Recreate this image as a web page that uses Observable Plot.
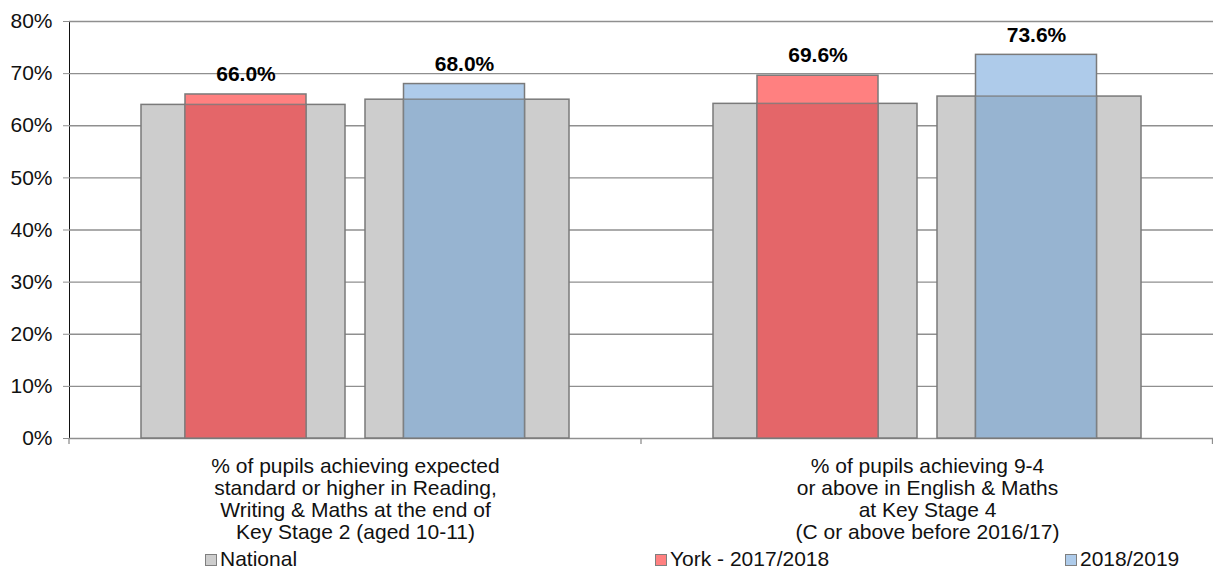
<!DOCTYPE html>
<html>
<head>
<meta charset="utf-8">
<script src="https://cdn.jsdelivr.net/npm/d3@7"></script>
<script src="https://cdn.jsdelivr.net/npm/@observablehq/plot@0.6"></script>
<style>
  html, body { margin: 0; padding: 0; background: #fff; }
  #wrap { width: 1213px; font-family: "Liberation Sans", Arial, sans-serif; }
  #legend { position: relative; height: 21px; font-size: 21px; color: #111; }
  #legend .item { position: absolute; top: 0; height: 21px; line-height: 21px; white-space: nowrap; }
  #legend .sw { display: inline-block; width: 10px; height: 10px; border: 1px solid #7f7f7f; margin-right: 3px; vertical-align: 0px; }
</style>
</head>
<body>
<div id="wrap"><div id="chart"></div><div id="legend"></div></div>
<script>
// ---- data ----
const categories = [
  "% of pupils achieving expected\nstandard or higher in Reading,\nWriting & Maths at the end of\nKey Stage 2 (aged 10-11)",
  "% of pupils achieving 9-4\nor above in English & Maths\nat Key Stage 4\n(C or above before 2016/17)"
];
const years = ["2017/2018", "2018/2019"];
const nationalValues = [[64.0, 65.0], [64.2, 65.6]];
const yorkValues = [[66.0, 68.0], [69.6, 73.6]];
const yTicks = [0, 10, 20, 30, 40, 50, 60, 70, 80];
const legendLabels = ["National", "York - 2017/2018", "2018/2019"];

// ---- styles ----
const nationalFill = "#cdcdcd";
const yorkLight = {"2017/2018": "#ff8080", "2018/2019": "#aecbea"};
const yorkDark = {"2017/2018": "#e46669", "2018/2019": "#97b4d1"};
const edge = "#7a7a7a";
const gridColor = "#8f8f8f";
const insets = {"2017/2018": [44, 39], "2018/2019": [38.5, 44.5]};

const rows = [];
categories.forEach((c, i) => years.forEach((yr, j) => rows.push({
  category: c, year: yr, national: nationalValues[i][j], york: yorkValues[i][j]
})));

const yorkMarks = years.flatMap(yr => {
  const data = rows.filter(d => d.year === yr);
  const [il, ir] = insets[yr];
  return [
    Plot.barY(data, {fx: "category", x: "year", y: "york", fill: yorkLight[yr], stroke: edge, strokeWidth: 1.5, insetLeft: il, insetRight: ir}),
    Plot.barY(data, {fx: "category", x: "year", y: "national", fill: yorkDark[yr], stroke: edge, strokeOpacity: 0.8, strokeWidth: 1.5, insetLeft: il, insetRight: ir}),
    Plot.text(data, {fx: "category", x: "year", y: "york", text: d => d.york.toFixed(1) + "%", dx: (il - ir) / 2, dy: -20, fontWeight: "bold", fontSize: 21, fill: "#000"})
  ];
});

const plot = Plot.plot({
  width: 1213,
  height: 548,
  marginLeft: 69,
  marginRight: 0,
  marginTop: 21,
  marginBottom: 110,
  style: {fontFamily: "'Liberation Sans', Arial, sans-serif", fontSize: "21px", color: "#111", background: "#fff"},
  fx: {domain: categories, padding: 0, axis: null, label: null},
  x: {domain: years, paddingInner: 0.0889, paddingOuter: 0.316, axis: null, label: null},
  y: {domain: [0, 80], ticks: yTicks, tickFormat: d => d + "%", tickSize: 6, tickPadding: 11, line: true, label: null},
  color: {type: "identity"},
  marks: [
    Plot.ruleY(yTicks, {stroke: gridColor, strokeWidth: 1.3}),
    Plot.barY(rows, {fx: "category", x: "year", y: "national", fill: nationalFill, stroke: edge, strokeWidth: 1.5}),
    ...yorkMarks,
    Plot.text(categories, {fx: d => d, text: d => d, frameAnchor: "bottom", lineAnchor: "top", dy: 19, lineHeight: 1.05, fontSize: 21, fill: "#111"})
  ]
});

document.getElementById("chart").appendChild(plot);

// axis styling and category boundary ticks
const svg = d3.select(plot);
svg.selectAll("g[aria-label^='y-axis'] line, g[aria-label^='y-axis'] path").attr("stroke", gridColor);
const fxRange = plot.scale("fx").range;
const yRange = plot.scale("y").range;
const y0 = Math.max(...yRange);
const xa = Math.min(...fxRange), xb = Math.max(...fxRange);
const bounds = d3.range(categories.length + 1).map(i => xa + i * (xb - xa) / categories.length);
svg.append("g").selectAll("line").data(bounds).join("line")
  .attr("x1", d => Math.min(d, 1212.5)).attr("x2", d => Math.min(d, 1212.5))
  .attr("y1", y0).attr("y2", y0 + 6)
  .attr("stroke", gridColor).attr("stroke-width", 1.3);

// legend
const swatch = [nationalFill, yorkLight["2017/2018"], yorkLight["2018/2019"]];
const legendLeft = [205, 655, 1065];
const legend = d3.select("#legend");
legendLabels.forEach((t, i) => {
  const item = legend.append("div").attr("class", "item").style("left", legendLeft[i] + "px");
  item.append("span").attr("class", "sw").style("background", swatch[i]);
  item.append("span").text(t);
});
</script>
</body>
</html>
